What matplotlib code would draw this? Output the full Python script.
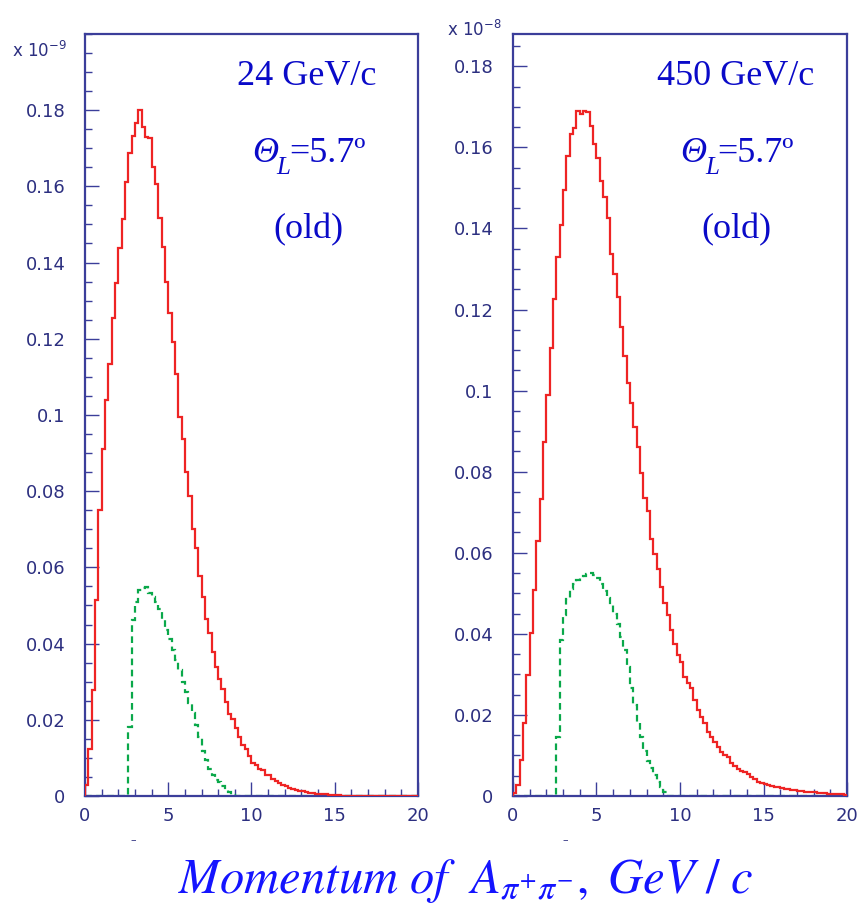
import matplotlib
matplotlib.use('Agg')
import matplotlib.pyplot as plt
from matplotlib.ticker import MultipleLocator
import numpy as np

plt.rcParams['mathtext.fontset'] = 'stix'

# momentum bins, GeV/c
bin_edges = np.linspace(0, 20, 101)

# 24 GeV/c, units of 1e-9
red_24 = [0.0030, 0.0124, 0.0278, 0.0514, 0.0750, 0.0910, 0.1040, 0.1135, 0.1254, 0.1347,
          0.1437, 0.1514, 0.1612, 0.1687, 0.1732, 0.1766, 0.1800, 0.1757, 0.1730, 0.1726,
          0.1652, 0.1605, 0.1518, 0.1442, 0.1348, 0.1267, 0.1192, 0.1107, 0.0994, 0.0936,
          0.0851, 0.0786, 0.0701, 0.0652, 0.0576, 0.0523, 0.0465, 0.0429, 0.0377, 0.0338,
          0.0306, 0.0281, 0.0247, 0.0214, 0.0203, 0.0178, 0.0154, 0.0133, 0.0124, 0.0105,
          0.0087, 0.0082, 0.0070, 0.0068, 0.0056, 0.0055, 0.0045, 0.0039, 0.0033, 0.0029,
          0.0025, 0.0021, 0.0018, 0.0015, 0.0013, 0.0012, 0.0010, 0.0008, 0.0007, 0.0006,
          0.0005, 0.0004, 0.0004, 0.0003, 0.0003, 0.0002, 0.0002, 0.0001, 0.0001, 0.0001,
          0.0, 0.0, 0.0, 0.0, 0.0, 0.0, 0.0, 0.0, 0.0, 0.0,
          0.0, 0.0, 0.0, 0.0, 0.0, 0.0, 0.0, 0.0, 0.0, 0.0]

green_24 = [0.0, 0.0, 0.0, 0.0, 0.0, 0.0, 0.0, 0.0, 0.0, 0.0,
            0.0, 0.0, 0.0, 0.0182, 0.0462, 0.0510, 0.0541, 0.0545, 0.0549, 0.0532,
            0.0523, 0.0510, 0.0490, 0.0462, 0.0436, 0.0412, 0.0383, 0.0357, 0.0330, 0.0300,
            0.0272, 0.0243, 0.0219, 0.0186, 0.0156, 0.0118, 0.0094, 0.0072, 0.0055, 0.0042,
            0.0036, 0.0027, 0.0016, 0.0010, 0.0003, 0.0, 0.0, 0.0, 0.0, 0.0,
            0.0, 0.0, 0.0, 0.0, 0.0, 0.0, 0.0, 0.0, 0.0, 0.0,
            0.0, 0.0, 0.0, 0.0, 0.0, 0.0, 0.0, 0.0, 0.0, 0.0,
            0.0, 0.0, 0.0, 0.0, 0.0, 0.0, 0.0, 0.0, 0.0, 0.0,
            0.0, 0.0, 0.0, 0.0, 0.0, 0.0, 0.0, 0.0, 0.0, 0.0,
            0.0, 0.0, 0.0, 0.0, 0.0, 0.0, 0.0, 0.0, 0.0, 0.0]

# 450 GeV/c, units of 1e-8
red_450 = [0.0007, 0.0027, 0.0088, 0.0180, 0.0299, 0.0401, 0.0508, 0.0630, 0.0732, 0.0874,
           0.0989, 0.1106, 0.1226, 0.1330, 0.1408, 0.1494, 0.1580, 0.1634, 0.1647, 0.1690,
           0.1683, 0.1690, 0.1688, 0.1652, 0.1608, 0.1573, 0.1517, 0.1478, 0.1425, 0.1338,
           0.1287, 0.1231, 0.1157, 0.1086, 0.1018, 0.0970, 0.0911, 0.0861, 0.0797, 0.0734,
           0.0703, 0.0635, 0.0598, 0.0561, 0.0516, 0.0475, 0.0446, 0.0409, 0.0376, 0.0348,
           0.0331, 0.0294, 0.0278, 0.0266, 0.0237, 0.0212, 0.0196, 0.0181, 0.0159, 0.0146,
           0.0134, 0.0122, 0.0109, 0.0101, 0.0095, 0.0082, 0.0075, 0.0067, 0.0062, 0.0058,
           0.0054, 0.0048, 0.0042, 0.0035, 0.0032, 0.0029, 0.0026, 0.0025, 0.0022, 0.0021,
           0.0019, 0.0018, 0.0017, 0.0015, 0.0014, 0.0013, 0.0012, 0.0011, 0.0010, 0.0009,
           0.0009, 0.0008, 0.0007, 0.0007, 0.0006, 0.0006, 0.0005, 0.0005, 0.0004, 0.0003]

green_450 = [0.0, 0.0, 0.0, 0.0, 0.0, 0.0, 0.0, 0.0, 0.0, 0.0,
             0.0, 0.0, 0.0, 0.0146, 0.0385, 0.0446, 0.0485, 0.0510, 0.0523, 0.0533,
             0.0537, 0.0542, 0.0548, 0.0550, 0.0546, 0.0538, 0.0522, 0.0505, 0.0488, 0.0470,
             0.0449, 0.0425, 0.0393, 0.0360, 0.0317, 0.0266, 0.0224, 0.0182, 0.0146, 0.0111,
             0.0087, 0.0068, 0.0051, 0.0035, 0.0022, 0.0009, 0.0, 0.0, 0.0, 0.0,
             0.0, 0.0, 0.0, 0.0, 0.0, 0.0, 0.0, 0.0, 0.0, 0.0,
             0.0, 0.0, 0.0, 0.0, 0.0, 0.0, 0.0, 0.0, 0.0, 0.0,
             0.0, 0.0, 0.0, 0.0, 0.0, 0.0, 0.0, 0.0, 0.0, 0.0,
             0.0, 0.0, 0.0, 0.0, 0.0, 0.0, 0.0, 0.0, 0.0, 0.0,
             0.0, 0.0, 0.0, 0.0, 0.0, 0.0, 0.0, 0.0, 0.0, 0.0]

y_ticks = [0, 0.02, 0.04, 0.06, 0.08, 0.1, 0.12, 0.14, 0.16, 0.18]
y_tick_labels = ['0', '0.02', '0.04', '0.06', '0.08', '0.1', '0.12', '0.14', '0.16', '0.18']
x_ticks = [0, 5, 10, 15, 20]
x_tick_labels = ['0', '5', '10', '15', '20']

panel_titles = ['24 GeV/c', '450 GeV/c']
scale_texts = [r'x 10$^{-9}$', r'x 10$^{-8}$']

frame_col = '#3b3e9a'
label_col = '#2c2f80'
text_col = '#0a0ac8'
red = '#ee2424'
green = '#0aa84a'

fig = plt.figure(figsize=(8.6, 9.22), dpi=100)
ax1 = fig.add_axes([0.0988, 0.1367, 0.3872, 0.8265])
ax2 = fig.add_axes([0.5965, 0.1367, 0.3884, 0.8265])

panels = [(ax1, red_24, green_24, 0.2), (ax2, red_450, green_450, 0.188)]

for k, (ax, r, g, ytop) in enumerate(panels):
    ax.stairs(g, bin_edges, baseline=0, color=green, lw=1.6, ls=(0, (3, 2)), zorder=2)
    ax.stairs(r, bin_edges, baseline=0, color=red, lw=1.6, zorder=3)
    ax.set_xlim(0, 20)
    ax.set_ylim(0, ytop)
    for s in ax.spines.values():
        s.set_color(frame_col)
        s.set_linewidth(1.6)
    ax.set_xticks(x_ticks)
    ax.set_xticklabels(x_tick_labels)
    ax.set_yticks(y_ticks)
    ax.set_yticklabels(y_tick_labels)
    ax.xaxis.set_minor_locator(MultipleLocator(1))
    ax.yaxis.set_minor_locator(MultipleLocator(0.005))
    ax.tick_params(which='both', direction='in', color=frame_col, width=1.0,
                   top=False, right=False, labelcolor=label_col, labelsize=13)
    ax.tick_params(which='major', length=10)
    ax.tick_params(which='minor', length=5)
    ax.tick_params(axis='y', pad=14)
    ax.tick_params(axis='x', pad=8)
    for lab in ax.get_xticklabels() + ax.get_yticklabels():
        lab.set_family('DejaVu Sans')

    serif = dict(transform=ax.transAxes, va='baseline', fontsize=26,
                 family='Liberation Serif', color=text_col)
    ax.text(0.667, 0.933, panel_titles[k], ha='center', **serif)
    # Theta_L = 5.7 deg, built from pieces so Theta and L are italic
    ax.text(0.502, 0.832, 'Θ', ha='left', style='italic', **serif)
    ax.text(0.575, 0.816, 'L', ha='left', style='italic',
            **{**serif, 'fontsize': 18})
    ax.text(0.612, 0.832, '=5.7º', ha='left', **serif)
    ax.text(0.670, 0.732, '(old)', ha='center', **serif)

fig.text(0.014, 0.945, scale_texts[0], fontsize=12, color=label_col,
         math_fontfamily='dejavusans', va='center')
fig.text(0.520, 0.968, scale_texts[1], fontsize=12, color=label_col,
         math_fontfamily='dejavusans', va='center')

# small stray dashes under the axes in the original
fig.text(0.155, 0.086, '–', fontsize=8, color=label_col, ha='center')
fig.text(0.657, 0.086, '–', fontsize=8, color=label_col, ha='center')

fig.text(0.541, 0.031, r'$Momentum\ of\ \ A_{\pi^{+}\pi^{-}},\ GeV\ /\ c$',
         ha='center', va='baseline', fontsize=35, color='#1414ff')

fig.savefig('out.png', dpi=100)
